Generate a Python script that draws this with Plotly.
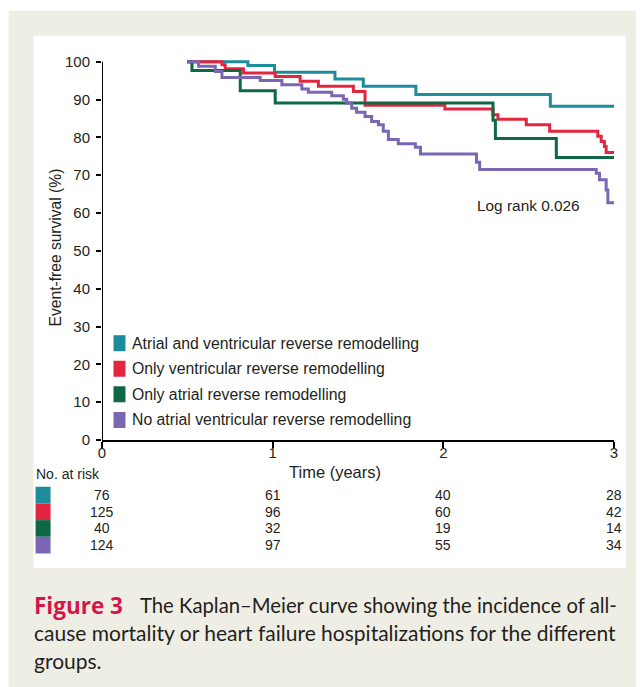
import plotly.graph_objects as go

# ---------------- data ----------------
group_names = [
    "Atrial and ventricular reverse remodelling",
    "Only ventricular reverse remodelling",
    "Only atrial reverse remodelling",
    "No atrial ventricular reverse remodelling",
]
group_colors = ["#1d8c9b", "#e3263f", "#0e6845", "#7b66b4"]

teal_t = [0.5, 0.855, 1.011, 1.365, 1.531, 1.839, 2.627, 3.0]
teal_s = [100, 99.0, 97.2, 95.4, 93.5, 91.3, 88.2, 88.2]

red_t = [0.5, 0.703, 0.722, 0.829, 1.015, 1.161, 1.268, 1.473, 1.541, 2.009,
         2.291, 2.32, 2.486, 2.623, 2.905, 2.925, 2.944, 2.954, 3.0]
red_s = [100, 99.2, 98.1, 97.0, 96.1, 94.8, 93.5, 92.1, 88.5, 87.5,
         86.0, 84.8, 83.3, 81.6, 80.3, 78.9, 77.6, 76.0, 76.0]

green_t = [0.5, 0.527, 0.81, 1.015, 2.291, 2.305, 2.662, 3.0]
green_s = [100, 97.7, 92.3, 89.1, 84.5, 79.7, 74.7, 74.7]

purple_t = [0.5, 0.566, 0.664, 0.703, 0.927, 1.054, 1.171, 1.209, 1.346, 1.414,
            1.434, 1.463, 1.492, 1.541, 1.580, 1.620, 1.648, 1.678, 1.736, 1.836,
            1.866, 2.194, 2.213, 2.896, 2.915, 2.954, 2.964, 3.0]
purple_s = [100, 98.8, 97.4, 95.8, 95.0, 93.9, 92.8, 91.9, 91.0, 90.1,
            89.1, 87.7, 86.6, 85.5, 84.2, 83.3, 81.6, 79.4, 78.3, 77.4,
            75.6, 73.4, 71.5, 70.5, 68.8, 66.1, 62.7, 62.7]

risk_times = [0, 1, 2, 3]
risk_teal = [76, 61, 40, 28]
risk_red = [125, 96, 60, 42]
risk_green = [40, 32, 19, 14]
risk_purple = [124, 97, 55, 34]

x_ticks = [0, 1, 2, 3]
y_ticks = [0, 10, 20, 30, 40, 50, 60, 70, 80, 90, 100]

logrank_text = "Log rank 0.026"
caption_bold = "Figure 3"
caption_lines = [
    "The Kaplan\u2013Meier curve showing the incidence of all-",
    "cause mortality or heart failure hospitalizations for the different",
    "groups.",
]

# ---------------- layout helpers (page pixel -> paper) ----------------
PL, PR, PT, PB = 101.5, 614.0, 56.33, 440.0   # plot area in page px
OFF = 8  # body margin of the html page


def px(x):
    return (x - PL) / (PR - PL)


def py(y):
    return (PB - y) / (PB - PT)


TXT = "#231f20"
BEIGE = "#efeee4"
FONT = "Liberation Sans, Arial, sans-serif"

fig = go.Figure()
series = [(teal_t, teal_s), (red_t, red_s), (green_t, green_s), (purple_t, purple_s)]
for (t, s), name, col in zip(series, group_names, group_colors):
    fig.add_trace(go.Scatter(x=t, y=s, mode="lines", name=name,
                             line=dict(color=col, width=3, shape="hv"),
                             showlegend=False, hoverinfo="skip"))

shapes = []
# background frame and white panel
shapes.append(dict(type="rect", xref="paper", yref="paper", x0=px(8), x1=px(700),
                   y0=py(11), y1=py(720), fillcolor=BEIGE, line=dict(width=0), layer="below"))
shapes.append(dict(type="rect", xref="paper", yref="paper", x0=px(33), x1=px(626),
                   y0=py(36), y1=py(568), fillcolor="white", line=dict(width=0), layer="below"))
# y axis line from 0 to 100
shapes.append(dict(type="line", xref="x", yref="y", x0=0, x1=0, y0=0, y1=100,
                   line=dict(color="black", width=2)))

annotations = []


def note(text, x, y, size, xanchor="center", xref="paper", yref="paper",
         family=FONT, color=TXT, **kw):
    annotations.append(dict(text=text, xref=xref, yref=yref, x=x, y=y,
                            xanchor=xanchor, yanchor="middle", showarrow=False,
                            font=dict(family=family, size=size, color=color), **kw))


# axis titles
note("Event-free survival (%)", px(55), py(248), 15.6, textangle=-90)
note("Time (years)", px(334.7), py(471.7), 16.5)
note(logrank_text, 2.813, 62, 15.4, xanchor="right", xref="x", yref="y")

# manual legend
leg_y = [343.3, 368.8, 394.3, 420.0]
for name, col, yc in zip(group_names, group_colors, leg_y):
    shapes.append(dict(type="rect", xref="paper", yref="paper", x0=px(113), x1=px(125),
                       y0=py(yc + 8), y1=py(yc - 8), fillcolor=col, line=dict(width=0)))
    note(name, px(129.7), py(yc), 15.8, xanchor="left")

# number at risk table
note("No. at risk", px(33), py(473.5), 14, xanchor="left")
risk_rows = [risk_teal, risk_red, risk_green, risk_purple]
row_h = 16.67
for i, (row, col) in enumerate(zip(risk_rows, group_colors)):
    top = 486.7 + i * row_h
    shapes.append(dict(type="rect", xref="paper", yref="paper", x0=px(35), x1=px(50),
                       y0=py(top + row_h), y1=py(top), fillcolor=col, line=dict(width=0)))
    for t, v in zip(risk_times, row):
        note(str(v), t, py(top + row_h / 2), 14, xref="x")

# caption
CAP = "Lato, Open Sans, sans-serif"
note("<b>" + caption_bold + "</b>", px(31), py(605), 22.5, xanchor="left",
     family="Open Sans, Lato, sans-serif", color="#d4164a")
note(caption_lines[0], px(138), py(605), 20.3, xanchor="left", family=CAP)
note(caption_lines[1], px(31), py(632.5), 21, xanchor="left", family=CAP)
note(caption_lines[2], px(31), py(660), 21, xanchor="left", family=CAP)

fig.update_layout(
    width=636, height=679, autosize=False,
    margin=dict(l=PL - OFF, r=636 + OFF - PR, t=PT - OFF, b=679 + OFF - PB, pad=0),
    paper_bgcolor="white", plot_bgcolor="rgba(0,0,0,0)",
    showlegend=False,
    shapes=shapes, annotations=annotations,
    xaxis=dict(range=[0, 3], tickvals=x_ticks, showline=True, linecolor="black",
               linewidth=2, ticks="outside", ticklen=6, tickwidth=2, tickcolor="black",
               showgrid=False, zeroline=False, ticklabelstandoff=-8,
               tickfont=dict(family=FONT, size=15, color=TXT)),
    yaxis=dict(range=[0, 101.5], tickvals=y_ticks, showline=False, ticks="outside",
               ticklen=5, tickwidth=2, tickcolor="black", showgrid=False, zeroline=False,
               ticklabelstandoff=3,
               tickfont=dict(family=FONT, size=15, color=TXT)),
)

fig.write_html("out.html")
